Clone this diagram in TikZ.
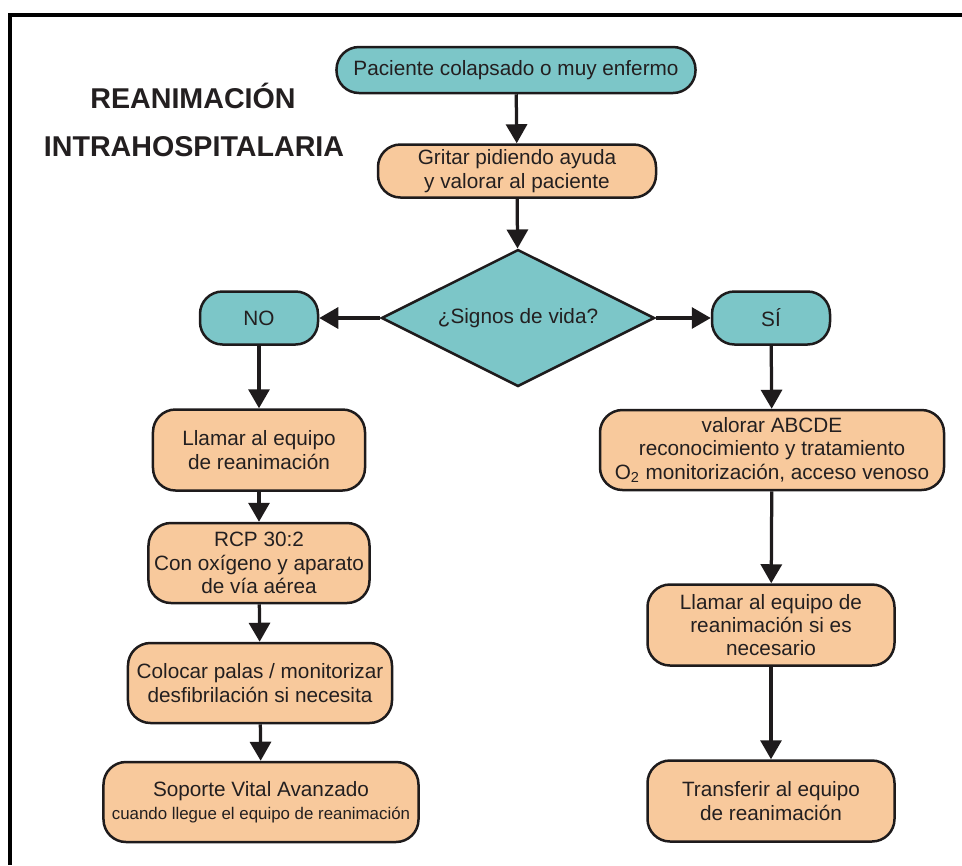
\documentclass[tikz,border=0pt]{standalone}
\usepackage{fontspec}
\setmainfont{Liberation Sans}
\usepackage{tikz}
\usetikzlibrary{shapes.geometric, arrows.meta, positioning}
\usepackage{xcolor}
\definecolor{RCPTeal}{HTML}{7CC6C8}
\definecolor{RCPPeach}{HTML}{F8C99C}
\definecolor{RCPLine}{HTML}{1E1B1C}
\definecolor{RCPText}{HTML}{231F20}
\newcommand{\boxfont}{\fontsize{11.8}{13.3}\selectfont}
\newcommand{\notefont}{\fontsize{9.6}{11.4}\selectfont}
\tikzset{
    % Box styles - rounded corners
    startbox/.style={
        rectangle,
        rounded corners=4.5mm,
        draw=RCPLine,
        fill=RCPTeal,
        line width=0.5mm,
        inner sep=1mm,
        align=center,
        text=RCPText,
        font=\boxfont
    },
    actionbox/.style={
        rectangle,
        rounded corners=4.5mm,
        draw=RCPLine,
        fill=RCPPeach,
        line width=0.5mm,
        inner sep=1mm,
        align=center,
        text=RCPText,
        font=\boxfont
    },
    answerbox/.style={
        startbox,
        minimum width=23.6mm,
        minimum height=10.6mm
    },
    question/.style={
        diamond,
        draw=RCPLine,
        fill=RCPTeal,
        line width=0.5mm,
        inner sep=0pt,
        aspect=2,
        minimum width=54.6mm,
        minimum height=27.4mm,
        align=center,
        text=RCPText,
        font=\boxfont
    },
    heading/.style={
        font=\fontsize{16.3}{18}\selectfont\bfseries,
        text=RCPText
    },
    % Arrow style - straight lines only
    arrow/.style={
        -{Triangle[length=3.8mm, width=4.2mm]},
        line width=0.65mm,
        draw=RCPLine
    },
    frame/.style={
        line width=0.8mm,
        draw=black
    }
}

\begin{document}
\begin{tikzpicture}[x=0.2mm, y=-0.2mm]
    \useasboundingbox (0,0) rectangle (962,865);
    \draw[frame] (962,15) -- (10,15) -- (10,865);

    \node[heading] (title1) at (193,96) {REANIMACIÓN};
    \node[heading] (title2) at (194,147) {INTRAHOSPITALARIA};

    \node[startbox, minimum width=71.8mm, minimum height=9.2mm] (start) at (516,70) {Paciente colapsado o muy enfermo};

    \node[actionbox, minimum width=55.6mm, minimum height=10.6mm] (shout) at (517,171) {Gritar pidiendo ayuda\\y valorar al paciente};

    \node[question] (signs) at (518,318) {¿Signos de vida?};

    \node[answerbox] (no) at (259,318) {NO};
    \node[answerbox] (yes) at (771,318) {SÍ};

    % left column
    \node[actionbox, minimum width=42.4mm, minimum height=16.2mm] (call) at (259,450) {Llamar al equipo\\de reanimación};

    \node[actionbox, minimum width=44.2mm, minimum height=16mm] (cpr) at (259,563) {RCP 30:2\\Con oxígeno y aparato\\de vía aérea};

    \node[actionbox, minimum width=52.8mm, minimum height=16mm] (pads) at (260,683) {Colocar palas / monitorizar\\desfibrilación si necesita};

    \node[actionbox, minimum width=63mm, minimum height=16mm] (als) at (261,802) {Soporte Vital Avanzado\\{\notefont cuando llegue el equipo de reanimación}};

    % right column
    \node[actionbox, minimum width=68.8mm, minimum height=16mm] (assess) at (772,450) {valorar ABCDE\\reconocimiento y tratamiento\\O\textsubscript{2} monitorización, acceso venoso};

    \node[actionbox, minimum width=49.4mm, minimum height=16.2mm] (callif) at (771,625) {Llamar al equipo de\\reanimación si es\\necesario};

    \node[actionbox, minimum width=49.4mm, minimum height=16.2mm] (handover) at (771,801) {Transferir al equipo\\de reanimación};

    \draw[arrow] (start) -- (shout);
    \draw[arrow] (shout) -- (signs);
    \draw[arrow] (signs) -- (no);
    \draw[arrow] (signs) -- (yes);
    \draw[arrow] (no) -- (call);
    \draw[arrow] (call) -- (cpr);
    \draw[arrow] (cpr) -- (pads);
    \draw[arrow] (pads) -- (als);
    \draw[arrow] (yes) -- (assess);
    \draw[arrow] (assess) -- (callif);
    \draw[arrow] (callif) -- (handover);
\end{tikzpicture}
\end{document}
